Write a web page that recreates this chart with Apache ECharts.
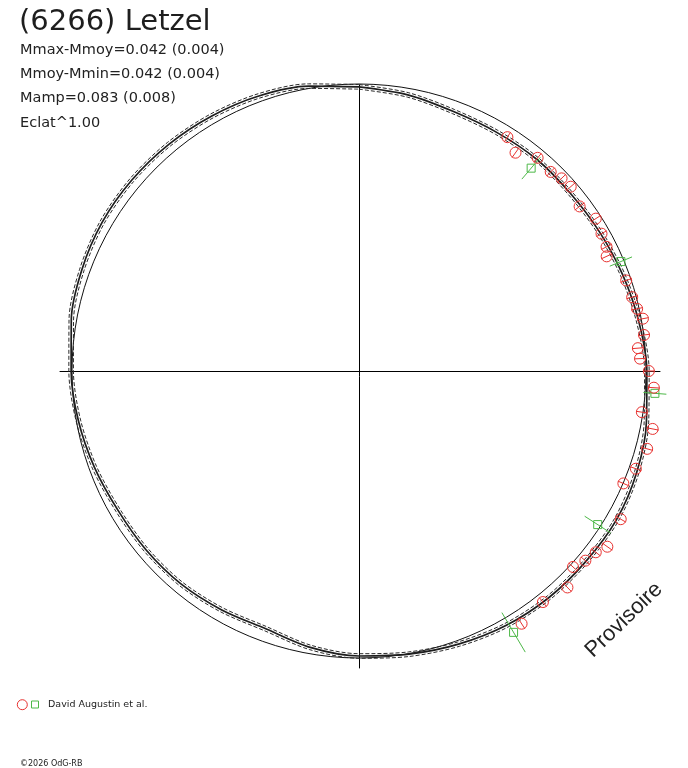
<!DOCTYPE html>
<html><head><meta charset="utf-8">
<script src="https://cdn.jsdelivr.net/npm/echarts@6/dist/echarts.min.js"></script>
<style>html,body{margin:0;padding:0;background:#fff}#c{width:688px;height:768px}</style>
</head><body><div id="c"></div>
<script>
// ---- texts ----
const titleText = '(6266) Letzel';
const infoLines = ['Mmax-Mmoy=0.042 (0.004)', 'Mmoy-Mmin=0.042 (0.004)', 'Mamp=0.083 (0.008)', 'Eclat^1.00'];
const legendLabel = 'David Augustin et al.';
const copyrightText = '\u00A92026 OdG-RB';
const stampText = 'Provisoire';

// ---- fitted lightcurve (phase 0 at top, clockwise), radius = relative flux ----
const fitPhase = [0, 0.0278, 0.0556, 0.0833, 0.1111, 0.1389, 0.1667, 0.1944, 0.2222, 0.25,
  0.2778, 0.3056, 0.3333, 0.3611, 0.3889, 0.4167, 0.4444, 0.4722, 0.5, 0.5278,
  0.5556, 0.5833, 0.6111, 0.6389, 0.6667, 0.6944, 0.7222, 0.75, 0.7778, 0.8056,
  0.8333, 0.8611, 0.8889, 0.9167, 0.9444, 0.9722, 1.0];
const fitFlux = [0.990, 0.977, 0.962, 0.960, 0.963, 0.962, 0.968, 0.978, 0.990, 1.003,
  1.017, 1.030, 1.036, 1.032, 1.030, 1.024, 1.013, 1.002, 0.993, 0.978,
  0.955, 0.960, 0.967, 0.969, 0.970, 0.981, 0.993, 1.003, 1.018, 1.028,
  1.034, 1.034, 1.031, 1.026, 1.020, 1.008, 0.990];
const fitSigma = 0.008;
const refCircle = 1.0;     // mean-flux circle
const radiusMax = 1.1;     // outer limit of the radius axis

// ---- observations: David Augustin et al. ----
const redPhase = [0.090, 0.099, 0.111, 0.122, 0.129, 0.136, 0.148, 0.159, 0.168, 0.176, 0.181,
  0.198, 0.208, 0.215, 0.221, 0.230, 0.237, 0.243, 0.250, 0.259, 0.273, 0.281, 0.292,
  0.304, 0.314, 0.332, 0.348, 0.354, 0.361, 0.368, 0.378, 0.393, 0.409];
const redFlux = [0.965, 0.936, 0.969, 0.963, 0.974, 0.978, 0.959, 0.981, 0.971, 0.965, 0.951,
  0.983, 0.986, 0.993, 1.006, 1.001, 0.975, 0.980, 1.010, 1.029, 0.996, 1.043, 1.040,
  1.023, 1.001, 1.048, 1.060, 1.039, 1.029, 1.011, 1.047, 1.029, 1.047];
const redErr = [0.020, 0.021, 0.020, 0.020, 0.020, 0.020, 0.021, 0.020, 0.020, 0.020, 0.021,
  0.020, 0.020, 0.020, 0.020, 0.020, 0.020, 0.020, 0.020, 0.021, 0.020, 0.021, 0.020,
  0.020, 0.020, 0.020, 0.021, 0.020, 0.020, 0.020, 0.020, 0.020, 0.021];
const greenPhase = [0.112, 0.187, 0.262, 0.341, 0.415];
const greenFlux = [0.927, 0.989, 1.034, 0.989, 1.058];
const greenErr = [0.050, 0.042, 0.040, 0.054, 0.080];

const RED = '#e8312f';
const GREEN = '#4db848';
const INK = '#1e1e1e';
const R_PX = 287; // pixels for refCircle

function pointRenderer(kind) {
  return function (params, api) {
    const r = api.value(0), p = api.value(1), e = api.value(2);
    const c = api.coord([r, p]);
    const a = api.coord([r - e, p]);
    const b = api.coord([r + e, p]);
    const color = kind === 'red' ? RED : GREEN;
    const children = [{
      type: 'line', shape: { x1: a[0], y1: a[1], x2: b[0], y2: b[1] },
      style: { stroke: color, lineWidth: 1 }
    }];
    if (kind === 'red') {
      children.push({ type: 'circle', shape: { cx: c[0], cy: c[1], r: 5.5 }, style: { stroke: color, fill: 'none', lineWidth: 1 } });
    } else {
      children.push({ type: 'rect', shape: { x: c[0] - 4, y: c[1] - 4, width: 8, height: 8 }, style: { stroke: color, fill: 'none', lineWidth: 1 } });
    }
    return { type: 'group', children: children };
  };
}

const chart = echarts.init(document.getElementById('c'), null, { renderer: 'canvas' });
const hidden = () => ({ axisTick: { show: false }, axisLabel: { show: false }, splitLine: { show: false }, splitArea: { show: false } });

chart.setOption({
  animation: false,
  backgroundColor: '#ffffff',
  grid: { left: 60, top: 85, width: 600, height: 583, show: false },
  xAxis: Object.assign({ type: 'value', min: -1.042, max: 1.049, axisLine: { show: true, onZero: true, lineStyle: { color: '#000', width: 1 } } }, hidden()),
  yAxis: Object.assign({ type: 'value', min: -1.035, max: 0.997, axisLine: { show: true, onZero: true, lineStyle: { color: '#000', width: 1 } } }, hidden()),
  polar: [
    { center: [359, 371], radius: R_PX * radiusMax / refCircle },
    { center: [359, 371], radius: R_PX }
  ],
  angleAxis: [
    Object.assign({ polarIndex: 0, type: 'value', min: 0, max: 1, startAngle: 90, clockwise: true, axisLine: { show: false } }, hidden()),
    Object.assign({ polarIndex: 1, type: 'value', min: 0, max: 1, startAngle: 90, clockwise: true,
      axisLine: { show: true, lineStyle: { color: '#111', width: 1 } } }, hidden())
  ],
  radiusAxis: [
    Object.assign({ polarIndex: 0, type: 'value', min: 0, max: radiusMax, axisLine: { show: false } }, hidden()),
    Object.assign({ polarIndex: 1, type: 'value', min: 0, max: refCircle, axisLine: { show: false } }, hidden())
  ],
  series: [
    { type: 'line', coordinateSystem: 'polar', polarIndex: 0, clip: false, smooth: 0.3, showSymbol: false, silent: true,
      data: fitPhase.map((p, i) => [fitFlux[i] + fitSigma, p]),
      lineStyle: { color: '#2a2a2a', width: 1, type: [4, 2] }, z: 2 },
    { type: 'line', coordinateSystem: 'polar', polarIndex: 0, clip: false, smooth: 0.3, showSymbol: false, silent: true,
      data: fitPhase.map((p, i) => [fitFlux[i] - fitSigma, p]),
      lineStyle: { color: '#2a2a2a', width: 1, type: [4, 2] }, z: 2 },
    { type: 'line', coordinateSystem: 'polar', polarIndex: 0, clip: false, smooth: 0.3, showSymbol: false, silent: true,
      data: fitPhase.map((p, i) => [fitFlux[i], p]),
      lineStyle: { color: INK, width: 1.7 }, z: 3 },
    { type: 'custom', coordinateSystem: 'polar', polarIndex: 0, clip: false, silent: true,
      encode: { radius: 0, angle: 1 },
      data: greenPhase.map((p, i) => [greenFlux[i], p, greenErr[i]]),
      renderItem: pointRenderer('green'), z: 4 },
    { type: 'custom', coordinateSystem: 'polar', polarIndex: 0, clip: false, silent: true,
      encode: { radius: 0, angle: 1 },
      data: redPhase.map((p, i) => [redFlux[i], p, redErr[i]]),
      renderItem: pointRenderer('red'), z: 5 }
  ],
  graphic: [
    { type: 'text', x: 19, y: 22.5, style: { text: titleText, font: '29px "DejaVu Sans"', fill: INK, align: 'left', verticalAlign: 'middle' } },
    { type: 'text', x: 20, y: 50, style: { text: infoLines[0], font: '14.5px "DejaVu Sans"', fill: '#222', align: 'left', verticalAlign: 'middle' } },
    { type: 'text', x: 20, y: 74, style: { text: infoLines[1], font: '14.5px "DejaVu Sans"', fill: '#222', align: 'left', verticalAlign: 'middle' } },
    { type: 'text', x: 20, y: 98.5, style: { text: infoLines[2], font: '14.5px "DejaVu Sans"', fill: '#222', align: 'left', verticalAlign: 'middle' } },
    { type: 'text', x: 20, y: 123, style: { text: infoLines[3], font: '14.5px "DejaVu Sans"', fill: '#222', align: 'left', verticalAlign: 'middle' } },
    { type: 'circle', shape: { cx: 22.3, cy: 704.7, r: 5 }, style: { stroke: RED, fill: 'none', lineWidth: 1 } },
    { type: 'rect', shape: { x: 31.5, y: 701, width: 7, height: 7 }, style: { stroke: GREEN, fill: 'none', lineWidth: 1 } },
    { type: 'text', x: 48, y: 705, style: { text: legendLabel, font: '9.5px "DejaVu Sans"', fill: '#222', align: 'left', verticalAlign: 'middle' } },
    { type: 'text', x: 20, y: 763.5, style: { text: copyrightText, font: '8px "DejaVu Sans"', fill: '#222', align: 'left', verticalAlign: 'middle' } },
    { type: 'text', x: 624, y: 620, rotation: 44 * Math.PI / 180, style: { text: stampText, font: '22px "Liberation Sans"', fill: '#222', align: 'center', verticalAlign: 'middle' } }
  ]
});
</script>
</body></html>
